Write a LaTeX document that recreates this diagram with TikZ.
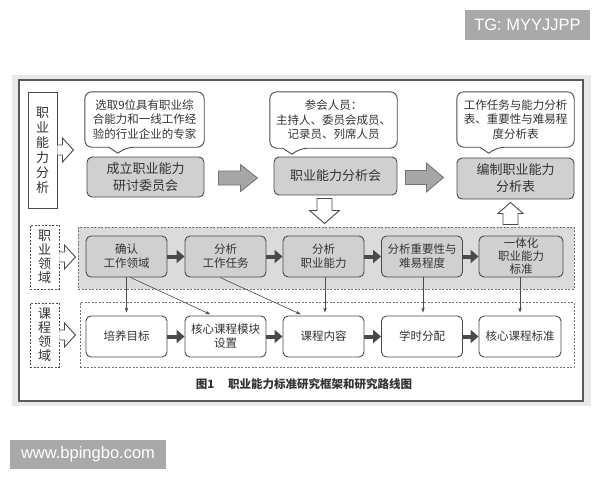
\documentclass[tikz,border=0pt]{standalone}
\usepackage{fontspec}
\setmainfont{Liberation Sans}
\newfontfamily\cjk{Noto Sans CJK SC}
\usetikzlibrary{arrows.meta,calc}
\definecolor{txt}{HTML}{333333}
\definecolor{edge}{HTML}{4A4A4A}
\definecolor{boxfill}{HTML}{D0D0D0}
\definecolor{regfill}{HTML}{DBDBDB}
\definecolor{arrfill}{HTML}{A6A6A6}
\definecolor{band}{HTML}{E9E9E9}
\definecolor{wm}{HTML}{A9A9A9}
\tikzset{
  boxbase/.style={draw=edge, line width=0.9pt, rounded corners=5pt, align=center,
    text=txt, font=\cjk\fontsize{11.5}{14}\selectfont, inner sep=1pt},
  graybox/.style={boxbase, fill=boxfill, minimum width=81pt, minimum height=41pt},
  whitebox/.style={boxbase, fill=white, minimum width=81pt, minimum height=41pt},
  topbox/.style={boxbase, fill=boxfill, font=\cjk\fontsize{13}{17}\selectfont},
  calloutbox/.style={align=center, text=txt, font=\cjk\fontsize{11.5}{14.5}\selectfont, inner sep=0pt},
  calloutline/.style={draw=edge, line width=0.9pt, fill=white},
  labelbox/.style={draw=edge, line width=0.9pt, fill=white, align=center, text=txt,
    font=\cjk\fontsize{13}{14}\selectfont, minimum width=29pt, inner sep=0pt},
  dashlabel/.style={labelbox, dash pattern=on 2pt off 1.5pt},
  chevron/.style={draw=edge, line width=0.9pt, fill=white, line join=miter},
  bigarrow/.style={draw=black!55, line width=0.8pt, fill=arrfill},
  openarrow/.style={draw=edge, line width=0.9pt, fill=white},
  rowarrow/.style={draw=edge, line width=4pt, -{Triangle[length=8pt,width=13pt]}},
  thinarrow/.style={draw=edge, line width=0.6pt, -{Stealth[length=5pt,width=3.5pt]}, shorten >=3pt},
  region/.style={draw=black!55, line width=0.9pt, dash pattern=on 2pt off 1.5pt},
  wmark/.style={fill=wm, text=white, font=\fontsize{16.5}{18}\selectfont, inner sep=0pt}
}
\begin{document}
\begin{tikzpicture}[x=1pt,y=-1pt]
\useasboundingbox (0,0) rectangle (600,480);
\fill[white] (0,0) rectangle (600,480);
% outer band and frame
\fill[band] (12,75) rectangle (591,406);
\draw[draw=black!65, line width=1.2pt, fill=white] (19,80) rectangle (583,401);

% left labels
\node[labelbox, minimum height=116pt, font=\cjk\fontsize{13}{15}\selectfont] (L1) at (42.5,150) {职\\业\\能\\力\\分\\析};
\node[dashlabel, minimum height=64pt] (L2) at (44.5,257) {职\\业\\领\\域};
\node[dashlabel, minimum height=64pt] (L3) at (44.5,335) {课\\程\\领\\域};
\foreach \L in {L1,L2,L3}{
  \draw[chevron] ($(\L.east)+(0,-5)$) -- ++(5,0) -- ++(0,-7) -- ++(11,12) -- ++(-11,12) -- ++(0,-7) -- ++(-5,0);
}

% callouts
\node[calloutbox, minimum width=119pt, minimum height=55pt] (C1) at (144.5,119.5) {};
\node[calloutbox, minimum width=127pt, minimum height=56pt] (C2) at (333.5,120) {};
\node[calloutbox, minimum width=117pt, minimum height=55pt] (C3) at (515.5,119.5) {};
\draw[calloutline] ($(C1.south west)+(24,0)$) [rounded corners=7pt] -- (C1.south west) -- (C1.north west) -- (C1.north east) -- (C1.south east) -- ($(C1.south west)+(42,0)$) [sharp corners] -- ($(C1.south west)+(33,6)$) -- cycle;
\draw[calloutline] ($(C2.south west)+(13,0)$) [rounded corners=7pt] -- (C2.south west) -- (C2.north west) -- (C2.north east) -- (C2.south east) -- ($(C2.south west)+(31,0)$) [sharp corners] -- ($(C2.south west)+(22,6)$) -- cycle;
\draw[calloutline] ($(C3.south west)+(23,0)$) [rounded corners=7pt] -- (C3.south west) -- (C3.north west) -- (C3.north east) -- (C3.south east) -- ($(C3.south west)+(41,0)$) [sharp corners] -- ($(C3.south west)+(32,6)$) -- cycle;
\node[calloutbox] at (C1) {选取9位具有职业综\\合能力和一线工作经\\验的行业企业的专家};
\node[calloutbox] at (C2) {参会人员：\\主持人、委员会成员、\\记录员、列席人员};
\node[calloutbox] at (C3) {工作任务与能力分析\\表、重要性与难易程\\度分析表};

% top boxes
\node[topbox, minimum width=117pt, minimum height=40pt] (B1) at (145.5,177) {成立职业能力\\研讨委员会};
\node[topbox, minimum width=123pt, minimum height=38pt] (B2) at (335.5,176) {职业能力分析会};
\node[topbox, minimum width=117pt, minimum height=41pt] (B3) at (515.5,178.5) {编制职业能力\\分析表};

% big arrows
\draw[bigarrow] ($(B1.east)+(14,1)$) ++(0,-7) -- ++(22,0) -- ++(0,-6.5) -- ++(17,13.5) -- ++(-17,13.5) -- ++(0,-6.5) -- ++(-22,0) -- cycle;
\draw[bigarrow] ($(B2.east)+(8,1.5)$) ++(0,-7) -- ++(21,0) -- ++(0,-7.5) -- ++(17,14.5) -- ++(-17,14.5) -- ++(0,-7.5) -- ++(-21,0) -- cycle;

% open arrows
\draw[openarrow] ($(B2.south)+(-11,3)$) ++(-7.5,0) -- ++(15,0) -- ++(0,12) -- ++(7.5,0) -- ++(-15,13) -- ++(-15,-13) -- ++(7.5,0) -- cycle;
\draw[openarrow] ($(B3.south)+(-5,3)$) -- ++(12.5,11) -- ++(-5,0) -- ++(0,11) -- ++(-15,0) -- ++(0,-11) -- ++(-5,0) -- cycle;

% regions
\node[region, fill=regfill, minimum width=496pt, minimum height=62pt, inner sep=0pt] (R1) at (326,258) {};
\node[region, fill=white, minimum width=494pt, minimum height=65pt, inner sep=0pt] (R2) at (327,334.5) {};

% middle row
\node[graybox] (M1) at (126.5,256.5) {确认\\工作领域};
\node[graybox] (M2) at (225.5,256.5) {分析\\工作任务};
\node[graybox] (M3) at (323.5,256.5) {分析\\职业能力};
\node[graybox] (M4) at (422,256.5) {分析重要性与\\难易程度};
\node[graybox, font=\cjk\fontsize{11.5}{13}\selectfont, minimum width=84pt] (M5) at (521,256.5) {一体化\\职业能力\\标准};

% bottom row
\node[whitebox] (P1) at (126.5,336.5) {培养目标};
\node[whitebox] (P2) at (225.5,336.5) {核心课程模块\\设置};
\node[whitebox] (P3) at (323.5,336.5) {课程内容};
\node[whitebox] (P4) at (422,336.5) {学时分配};
\node[whitebox, minimum width=82pt] (P5) at (520,336.5) {核心课程标准};

% row arrows
\foreach \a/\b in {M1/M2,M2/M3,M3/M4,M4/M5,P1/P2,P2/P3,P3/P4,P4/P5}{
  \draw[rowarrow] (\a.east) -- (\b.west);
}

% thin arrows
\draw[thinarrow] (M1.south) -- (P1.north);
\draw[thinarrow] ($(M1.south)+(4,0)$) -- ($(P2.north)+(-12.5,0)$);
\draw[thinarrow] ($(M2.south)+(-5.5,0)$) -- ($(P3.north)+(-20,0)$);
\draw[thinarrow] ($(M3.south)+(1.5,0)$) -- ($(P3.north)+(1.5,0)$);
\draw[thinarrow] ($(M4.south)+(1,0)$) -- ($(P4.north)+(1,0)$);
\draw[thinarrow] ($(M5.south)+(-1,0)$) -- ($(P5.north)+(0,0)$);

% caption
\node[text=txt, font=\cjk\bfseries\fontsize{11.5}{13}\selectfont] (cap) at (304,384) {图1\hspace{1.2em}职业能力标准研究框架和研究路线图};

% watermarks
\node[wmark, minimum width=125pt, minimum height=30pt] (wm1) at (527.5,25) {TG: MYYJJPP};
\node[wmark, minimum width=156pt, minimum height=29pt] (wm2) at (88,454.5) {www.bpingbo.com};
\end{tikzpicture}
\end{document}
